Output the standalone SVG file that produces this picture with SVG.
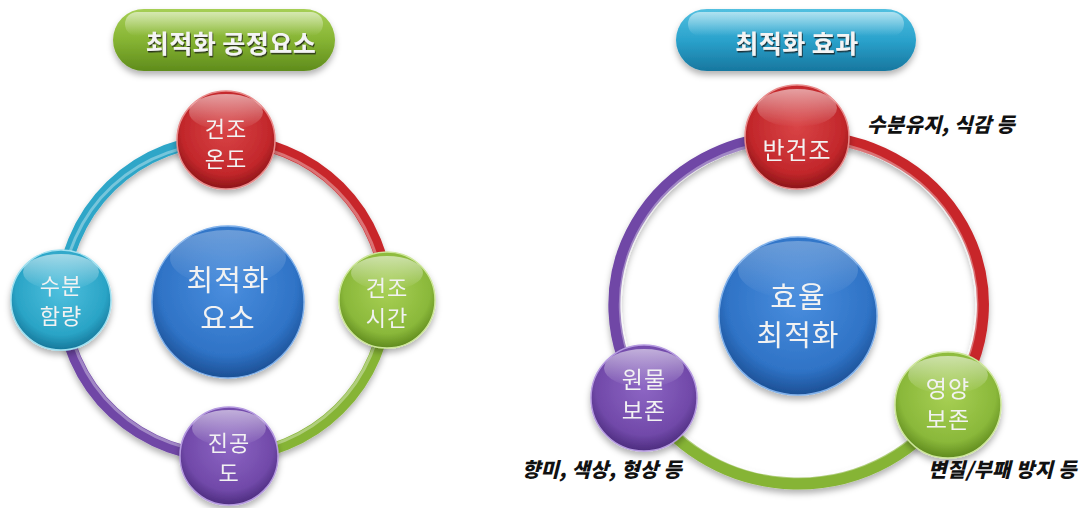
<svg xmlns="http://www.w3.org/2000/svg" width="1088" height="508" viewBox="0 0 1088 508">
<defs>
  <style>
    .nt{font-family:"Noto Sans CJK KR","Noto Sans",sans-serif;fill:#f2f2f2;text-anchor:middle;dominant-baseline:central;letter-spacing:1px}
    .title{font-family:"Noto Sans CJK KR","Noto Sans",sans-serif;font-weight:bold;font-size:25px;text-anchor:middle;dominant-baseline:central;letter-spacing:0.5px}
    .ann{font-family:"Noto Sans CJK KR","Noto Sans",sans-serif;font-weight:900;font-style:italic;font-size:20px;fill:#111;letter-spacing:0.3px}
    .ring{fill:none;stroke-width:12;stroke-linecap:butt}
    .gloss{fill:none;stroke:#ffffff;stroke-opacity:0.35;stroke-width:3}
    .hl{fill:url(#hlg)}
  </style>
  <filter id="sh" x="-30%" y="-30%" width="160%" height="170%">
    <feDropShadow dx="0" dy="4" stdDeviation="3" flood-color="#000" flood-opacity="0.3"/>
  </filter>
  <filter id="tsh" x="-10%" y="-30%" width="120%" height="160%">
    <feDropShadow dx="1" dy="1.5" stdDeviation="0.6" flood-color="#1a1a1a" flood-opacity="0.8"/>
  </filter>
  <radialGradient id="red" cx="50%" cy="40%" r="60%">
    <stop offset="0" stop-color="#d94446"/><stop offset="0.75" stop-color="#c2272b"/><stop offset="1" stop-color="#8c1518"/>
  </radialGradient>
  <radialGradient id="green" cx="50%" cy="40%" r="60%">
    <stop offset="0" stop-color="#a8d055"/><stop offset="0.75" stop-color="#8ab83a"/><stop offset="1" stop-color="#5f8a1e"/>
  </radialGradient>
  <radialGradient id="cyan" cx="50%" cy="40%" r="60%">
    <stop offset="0" stop-color="#4fc0de"/><stop offset="0.75" stop-color="#2aa4c6"/><stop offset="1" stop-color="#16779a"/>
  </radialGradient>
  <radialGradient id="purple" cx="50%" cy="40%" r="60%">
    <stop offset="0" stop-color="#8d66c4"/><stop offset="0.75" stop-color="#7149a9"/><stop offset="1" stop-color="#4c2c7e"/>
  </radialGradient>
  <radialGradient id="blue" cx="50%" cy="40%" r="60%">
    <stop offset="0" stop-color="#4a8ede"/><stop offset="0.75" stop-color="#2f73c6"/><stop offset="1" stop-color="#1c4f94"/>
  </radialGradient>
  <linearGradient id="hlg" x1="0" y1="0" x2="0" y2="1">
    <stop offset="0" stop-color="#ffffff" stop-opacity="0.55"/><stop offset="1" stop-color="#ffffff" stop-opacity="0"/>
  </linearGradient>
  <linearGradient id="pillG" x1="0" y1="0" x2="0" y2="1">
    <stop offset="0" stop-color="#a6cf55"/><stop offset="0.5" stop-color="#86b433"/><stop offset="1" stop-color="#5f8c1c"/>
  </linearGradient>
  <linearGradient id="pillC" x1="0" y1="0" x2="0" y2="1">
    <stop offset="0" stop-color="#52c0e0"/><stop offset="0.5" stop-color="#2aa2cc"/><stop offset="1" stop-color="#17779f"/>
  </linearGradient>
</defs>
<rect width="1088" height="508" fill="#ffffff"/>

<!-- Titles -->
<g id="title-left" filter="url(#sh)">
  <rect x="113" y="9" width="222" height="62" rx="31" fill="url(#pillG)"/>
  <rect x="125" y="12" width="198" height="24" rx="12" class="hl"/>
  <text class="title" x="231" y="42" fill="#f4f4f4" filter="url(#tsh)">최적화 공정요소</text>
</g>
<g id="title-right" filter="url(#sh)">
  <rect x="676" y="9" width="240" height="62" rx="31" fill="url(#pillC)"/>
  <rect x="688" y="12" width="216" height="24" rx="12" class="hl"/>
  <text class="title" x="797" y="42" fill="#f4f4f4" filter="url(#tsh)">최적화 효과</text>
</g>

<!-- Connectors -->
<g id="connectors" filter="url(#sh)">
  <path class="ring" stroke="#2ea6c8" d="M 62 300 A 162 162 0 0 1 226 140"/>
  <path class="ring" stroke="#c8282c" d="M 226 140 A 162 162 0 0 1 387 300"/>
  <path class="ring" stroke="#86b436" d="M 387 300 A 162 162 0 0 1 229 456"/>
  <path class="ring" stroke="#6f47a6" d="M 229 456 A 162 162 0 0 1 62 300"/>
  <path class="gloss" d="M 62 296 A 158 158 0 0 1 226 144"/>
  <path class="gloss" d="M 226 144 A 158 158 0 0 1 383 300"/>
  <path class="gloss" d="M 383 300 A 158 158 0 0 1 229 452"/>
  <path class="gloss" d="M 229 452 A 158 158 0 0 1 66 300"/>

  <path class="ring" stroke="#6f47a6" d="M 644 398 A 177 168 0 0 1 797 137"/>
  <path class="ring" stroke="#c8282c" d="M 797 137 A 177 168 0 0 1 948 405"/>
  <path class="ring" stroke="#86b436" d="M 948 405 A 177 168 0 0 1 644 398"/>
  <path class="gloss" d="M 648 394 A 173 164 0 0 1 797 141"/>
  <path class="gloss" d="M 797 141 A 173 164 0 0 1 944 401"/>
  <path class="gloss" d="M 944 401 A 173 164 0 0 1 648 394"/>
</g>

<!-- Left diagram nodes -->
<g id="node-center-left" filter="url(#sh)">
  <circle cx="228" cy="302" r="76" fill="url(#blue)" stroke="#7fb0ea" stroke-width="1.5"/>
  <ellipse cx="228" cy="258" rx="58" ry="28" class="hl" opacity="0.5"/>
  <text class="nt" x="228" y="278" font-size="29">최적화</text>
  <text class="nt" x="228" y="316" font-size="29">요소</text>
</g>
<g id="node-drytemp" filter="url(#sh)">
  <circle cx="226" cy="140" r="49" fill="url(#red)" stroke="#e88a8a" stroke-width="1.5"/>
  <ellipse cx="226" cy="112" rx="37" ry="18" class="hl"/>
  <text class="nt" x="226" y="127" font-size="22">건조</text>
  <text class="nt" x="226" y="157" font-size="22">온도</text>
</g>
<g id="node-drytime" filter="url(#sh)">
  <circle cx="387" cy="300" r="48" fill="url(#green)" stroke="#cde69a" stroke-width="1.5"/>
  <ellipse cx="387" cy="273" rx="36" ry="17" class="hl"/>
  <text class="nt" x="387" y="286" font-size="22">건조</text>
  <text class="nt" x="387" y="316" font-size="22">시간</text>
</g>
<g id="node-vacuum" filter="url(#sh)">
  <circle cx="229" cy="456" r="49" fill="url(#purple)" stroke="#b59ae0" stroke-width="1.5"/>
  <ellipse cx="229" cy="428" rx="37" ry="18" class="hl"/>
  <text class="nt" x="229" y="441" font-size="22">진공</text>
  <text class="nt" x="229" y="471" font-size="22">도</text>
</g>
<g id="node-moisture" filter="url(#sh)">
  <circle cx="61" cy="300" r="50" fill="url(#cyan)" stroke="#9fe0f0" stroke-width="1.5"/>
  <ellipse cx="61" cy="272" rx="38" ry="18" class="hl"/>
  <text class="nt" x="61" y="284" font-size="22">수분</text>
  <text class="nt" x="61" y="314" font-size="22">함량</text>
</g>

<!-- Right diagram nodes -->
<g id="node-center-right" filter="url(#sh)">
  <circle cx="798" cy="316" r="79" fill="url(#blue)" stroke="#7fb0ea" stroke-width="1.5"/>
  <ellipse cx="798" cy="270" rx="60" ry="29" class="hl" opacity="0.5"/>
  <text class="nt" x="798" y="295" font-size="29">효율</text>
  <text class="nt" x="798" y="333" font-size="29">최적화</text>
</g>
<g id="node-semidry" filter="url(#sh)">
  <circle cx="797" cy="137" r="52" fill="url(#red)" stroke="#e88a8a" stroke-width="1.5"/>
  <ellipse cx="797" cy="108" rx="40" ry="19" class="hl"/>
  <text class="nt" x="797" y="148" font-size="24">반건조</text>
</g>
<g id="node-nutrient" filter="url(#sh)">
  <circle cx="948" cy="405" r="53" fill="url(#green)" stroke="#cde69a" stroke-width="1.5"/>
  <ellipse cx="948" cy="375" rx="40" ry="19" class="hl"/>
  <text class="nt" x="948" y="387" font-size="23">영양</text>
  <text class="nt" x="948" y="418" font-size="23">보존</text>
</g>
<g id="node-raw" filter="url(#sh)">
  <circle cx="644" cy="398" r="53" fill="url(#purple)" stroke="#b59ae0" stroke-width="1.5"/>
  <ellipse cx="644" cy="368" rx="40" ry="19" class="hl"/>
  <text class="nt" x="644" y="378" font-size="23">원물</text>
  <text class="nt" x="644" y="409" font-size="23">보존</text>
</g>

<!-- Annotations -->
<text class="ann" x="867" y="132">수분유지, 식감 등</text>
<text class="ann" x="682" y="477" text-anchor="end">향미, 색상, 형상 등</text>
<text class="ann" x="928" y="477">변질/부패 방지 등</text>
</svg>
